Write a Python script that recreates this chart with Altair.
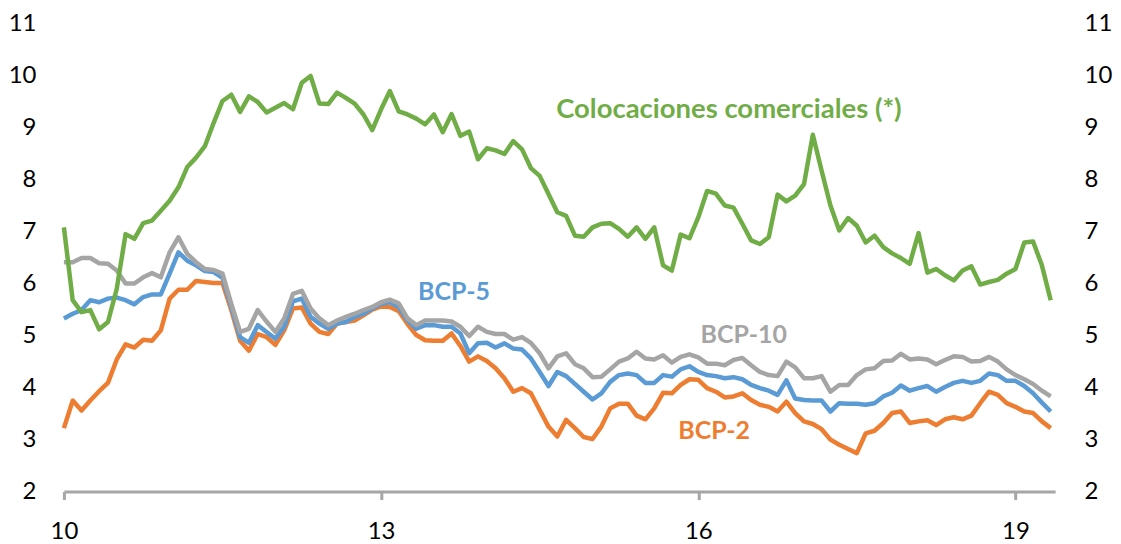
import altair as alt
import pandas as pd

# Monthly observations, Jan 2010 .. May 2019 (x expressed as 10 + month/12)
colocaciones = [7.08, 5.68, 5.45, 5.49, 5.12, 5.26, 5.90, 6.95, 6.86, 7.16,
                7.21, 7.40, 7.59, 7.85, 8.24, 8.42, 8.64, 9.09, 9.51, 9.63,
                9.30, 9.60, 9.49, 9.29, 9.38, 9.47, 9.35, 9.86, 9.99, 9.46,
                9.45, 9.67, 9.57, 9.46, 9.25, 8.95, 9.35, 9.70, 9.31, 9.25,
                9.17, 9.06, 9.25, 8.91, 9.26, 8.84, 8.92, 8.39, 8.60, 8.56,
                8.49, 8.74, 8.58, 8.22, 8.07, 7.72, 7.37, 7.30, 6.92, 6.90,
                7.08, 7.15, 7.16, 7.05, 6.90, 7.08, 6.86, 7.08, 6.35, 6.25,
                6.94, 6.87, 7.27, 7.78, 7.73, 7.50, 7.46, 7.15, 6.83, 6.76,
                6.89, 7.71, 7.58, 7.69, 7.91, 8.86, 8.17, 7.50, 7.02, 7.26,
                7.11, 6.79, 6.92, 6.70, 6.58, 6.49, 6.38, 6.97, 6.21, 6.28,
                6.16, 6.06, 6.25, 6.33, 5.98, 6.03, 6.07, 6.19, 6.28, 6.79,
                6.81, 6.35, 5.68]

bcp10 = [6.41, 6.41, 6.49, 6.49, 6.39, 6.38, 6.25, 6.00, 6.00, 6.12,
         6.20, 6.12, 6.60, 6.89, 6.57, 6.41, 6.28, 6.26, 6.19, 5.61,
         5.07, 5.13, 5.49, 5.27, 5.07, 5.33, 5.80, 5.86, 5.52, 5.33,
         5.20, 5.29, 5.36, 5.42, 5.49, 5.55, 5.64, 5.69, 5.62, 5.33,
         5.20, 5.29, 5.29, 5.29, 5.27, 5.17, 4.99, 5.17, 5.07, 5.03,
         5.03, 4.92, 4.97, 4.86, 4.66, 4.37, 4.60, 4.66, 4.45, 4.37,
         4.20, 4.21, 4.35, 4.50, 4.56, 4.69, 4.56, 4.54, 4.62, 4.48,
         4.59, 4.64, 4.58, 4.46, 4.46, 4.43, 4.53, 4.57, 4.43, 4.30,
         4.24, 4.22, 4.50, 4.39, 4.18, 4.18, 4.22, 3.92, 4.05, 4.05,
         4.24, 4.35, 4.37, 4.51, 4.52, 4.65, 4.54, 4.56, 4.54, 4.45,
         4.53, 4.60, 4.59, 4.50, 4.51, 4.59, 4.50, 4.35, 4.24, 4.16,
         4.07, 3.94, 3.83]

bcp5 = [5.33, 5.42, 5.49, 5.68, 5.64, 5.71, 5.73, 5.68, 5.60, 5.74,
        5.79, 5.79, 6.19, 6.60, 6.44, 6.35, 6.24, 6.22, 6.11, 5.55,
        4.97, 4.86, 5.20, 5.07, 4.94, 5.17, 5.66, 5.71, 5.36, 5.23,
        5.13, 5.23, 5.26, 5.36, 5.42, 5.52, 5.61, 5.64, 5.55, 5.29,
        5.13, 5.20, 5.20, 5.17, 5.17, 5.04, 4.66, 4.85, 4.86, 4.77,
        4.85, 4.75, 4.73, 4.56, 4.30, 4.03, 4.30, 4.22, 4.07, 3.92,
        3.77, 3.89, 4.11, 4.24, 4.27, 4.24, 4.09, 4.09, 4.24, 4.21,
        4.35, 4.41, 4.30, 4.24, 4.22, 4.18, 4.20, 4.16, 4.05, 3.99,
        3.94, 3.86, 4.14, 3.79, 3.76, 3.75, 3.75, 3.54, 3.70, 3.69,
        3.69, 3.67, 3.70, 3.83, 3.90, 4.04, 3.94, 3.99, 4.03, 3.92,
        4.01, 4.09, 4.13, 4.09, 4.13, 4.27, 4.24, 4.13, 4.13, 4.03,
        3.89, 3.71, 3.54]

bcp2 = [3.22, 3.75, 3.56, 3.75, 3.93, 4.09, 4.54, 4.83, 4.77, 4.92,
        4.90, 5.10, 5.71, 5.88, 5.88, 6.05, 6.03, 6.01, 6.01, 5.49,
        4.90, 4.71, 5.03, 4.97, 4.82, 5.10, 5.52, 5.54, 5.23, 5.07,
        5.03, 5.23, 5.26, 5.29, 5.39, 5.50, 5.56, 5.55, 5.47, 5.22,
        5.01, 4.91, 4.90, 4.90, 5.04, 4.80, 4.50, 4.60, 4.51, 4.37,
        4.18, 3.92, 3.99, 3.89, 3.57, 3.25, 3.06, 3.38, 3.22, 3.05,
        3.01, 3.25, 3.60, 3.69, 3.69, 3.46, 3.39, 3.60, 3.90, 3.89,
        4.05, 4.16, 4.15, 3.99, 3.92, 3.81, 3.83, 3.89, 3.76, 3.67,
        3.63, 3.54, 3.73, 3.51, 3.35, 3.30, 3.20, 3.00, 2.90, 2.82,
        2.74, 3.12, 3.17, 3.32, 3.51, 3.54, 3.32, 3.35, 3.37, 3.28,
        3.39, 3.43, 3.39, 3.46, 3.70, 3.92, 3.86, 3.70, 3.63, 3.54,
        3.51, 3.35, 3.22]

series_names = ["BCP-2", "BCP-5", "BCP-10", "Colocaciones comerciales (*)"]
series_colors = ["#ED7D31", "#5B9BD5", "#A5A5A5", "#70AD47"]
series_values = [bcp2, bcp5, bcp10, colocaciones]

x_ticks = [10, 13, 16, 19]
y_ticks = list(range(2, 12))

label_texts = ["Colocaciones comerciales (*)", "BCP-5", "BCP-10", "BCP-2"]
label_x = [16.29, 13.69, 16.43, 16.15]
label_y = [9.33, 5.84, 5.02, 3.17]
label_colors = ["#70AD47", "#5B9BD5", "#A5A5A5", "#ED7D31"]
label_sizes = [27.5, 25, 25, 25]

rows = []
for name, vals in zip(series_names, series_values):
    for m, v in enumerate(vals):
        rows.append({"serie": name, "t": 10 + m / 12.0, "v": v})
df = pd.DataFrame(rows)

labels_df = pd.DataFrame({"texto": label_texts, "t": label_x, "v": label_y,
                          "color": label_colors, "size": label_sizes})

FONT = "Lato"
AXIS_GRAY = "#A6A6A6"

x_enc = alt.X(
    "t:Q",
    scale=alt.Scale(domain=[10, 19.375], nice=False, zero=False),
    axis=alt.Axis(values=x_ticks, format="d", title=None, grid=False,
                  domain=True, domainColor=AXIS_GRAY, domainWidth=3,
                  ticks=True, tickColor=AXIS_GRAY, tickWidth=3, tickSize=8,
                  labelFont=FONT, labelFontSize=24, labelColor="black",
                  labelPadding=20, labelFlush=False, labelOverlap=False),
)
y_scale = alt.Scale(domain=[2, 11], nice=False, zero=False)
y_left = alt.Y("v:Q", scale=y_scale,
               axis=alt.Axis(values=y_ticks, orient="left", title=None,
                             domain=False, ticks=False, grid=False,
                             labelFont=FONT, labelFontSize=24,
                             labelColor="black", labelPadding=28,
                             labelFlush=False, labelOverlap=False))
y_right = alt.Y("v:Q", scale=y_scale,
                axis=alt.Axis(values=y_ticks, orient="right", title=None,
                              domain=False, ticks=False, grid=False,
                              labelFont=FONT, labelFontSize=24,
                              labelColor="black", labelPadding=29,
                              labelFlush=False, labelOverlap=False))

base = alt.Chart(df)
line_layers = []
for name, col in zip(series_names, series_colors):
    line_layers.append(
        base.transform_filter(alt.datum.serie == name)
        .mark_line(color=col, strokeWidth=4.5, strokeJoin="round")
        .encode(x=x_enc, y=y_left)
    )

text_layer = alt.Chart(labels_df).mark_text(
    font=FONT, fontWeight="bold", align="center", baseline="middle"
).encode(x=x_enc, y=y_left, text="texto:N",
         color=alt.Color("color:N", scale=None),
         size=alt.Size("size:Q", scale=None))

left = alt.layer(*line_layers, text_layer)

right = (
    base.transform_filter(alt.datum.serie == series_names[3])
    .mark_line(opacity=0)
    .encode(x=x_enc, y=y_right)
)

chart = (
    alt.layer(left, right)
    .resolve_scale(y="independent")
    .properties(
        width=993,
        height=469,
        autosize=alt.AutoSizeParams(type="none"),
        padding={"left": 56, "top": 15, "right": 58, "bottom": 52},
        background="white",
    )
    .configure_view(stroke=None)
)

chart.save("out.html", embed_options={"renderer": "svg", "actions": False})
